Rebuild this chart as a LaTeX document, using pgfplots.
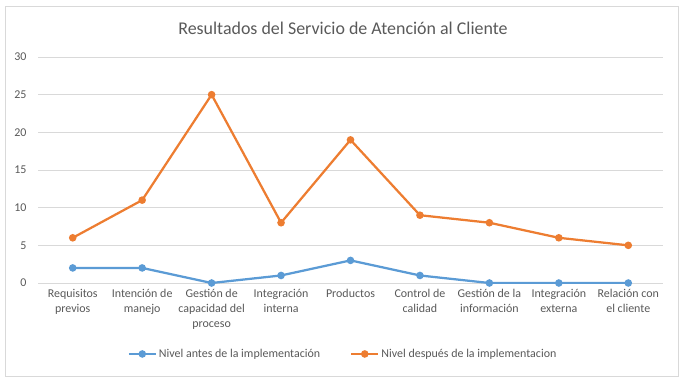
\documentclass[border=0pt]{standalone}
\usepackage{pgfplots}
\pgfplotsset{compat=1.18}
\usepackage{fontspec}
\setmainfont{Carlito}
\definecolor{cblue}{HTML}{5B9BD5}
\definecolor{corange}{HTML}{ED7D31}
\definecolor{ctext}{HTML}{595959}
\definecolor{cgrid}{HTML}{D9D9D9}
\definecolor{cframe}{HTML}{D9D9D9}
\begin{document}
\begin{tikzpicture}[x=1bp,y=1bp]
\useasboundingbox (0,0) rectangle (685,384);
\draw[cframe, line width=0.75bp] (5,8) rectangle (678,378);
\node[text=ctext, font=\fontsize{18}{21}\selectfont] at (343,356) {Resultados del Servicio de Atención al Cliente};
\begin{axis}[
  at={(38bp,101bp)}, anchor=south west,
  scale only axis, width=625bp, height=226bp,
  xmin=-0.5, xmax=8.5, ymin=0, ymax=30,
  xtick={0,...,8},
  xticklabels={Requisitos\\previos, Intención de\\manejo, Gestión de\\capacidad del\\proceso, Integración\\interna, Productos, Control de\\calidad, Gestión de la\\información, Integración\\externa, Relación con\\el cliente},
  ytick={0,5,...,30},
  ymajorgrids, grid style={cgrid, line width=0.75bp},
  axis x line*=bottom, axis y line*=left,
  x axis line style={cgrid, line width=0.75bp, -},
  y axis line style={draw=none},
  major tick length=0pt,
  tick style={draw=none},
  /pgf/number format/assume math mode=true,
  xticklabel style={align=center, text=ctext, font=\fontsize{12}{15}\selectfont, anchor=north, yshift=-3bp},
  yticklabel style={text=ctext, font=\fontsize{12}{14}\selectfont, xshift=-8bp},
  every axis plot/.append style={line width=2.25bp, mark=*, mark size=2.6bp},
  legend style={at={(0.488,-0.314)}, anchor=center, draw=none, fill=none,
    font=\fontsize{12}{14}\selectfont, text=ctext, legend columns=2,
    /tikz/every even column/.append style={column sep=28bp}},
  legend image code/.code={\draw[mark repeat=2, mark phase=2, #1] plot coordinates {(0bp,0bp) (13.5bp,0bp) (27bp,0bp)};},
]
\addplot[cblue, mark options={fill=cblue, draw=cblue}] coordinates {(0,2) (1,2) (2,0) (3,1) (4,3) (5,1) (6,0) (7,0) (8,0)};
\addlegendentry{Nivel antes de la implementación}
\addplot[corange, mark options={fill=corange, draw=corange}] coordinates {(0,6) (1,11) (2,25) (3,8) (4,19) (5,9) (6,8) (7,6) (8,5)};
\addlegendentry{Nivel después de la implementacion}
\end{axis}
\end{tikzpicture}
\end{document}
